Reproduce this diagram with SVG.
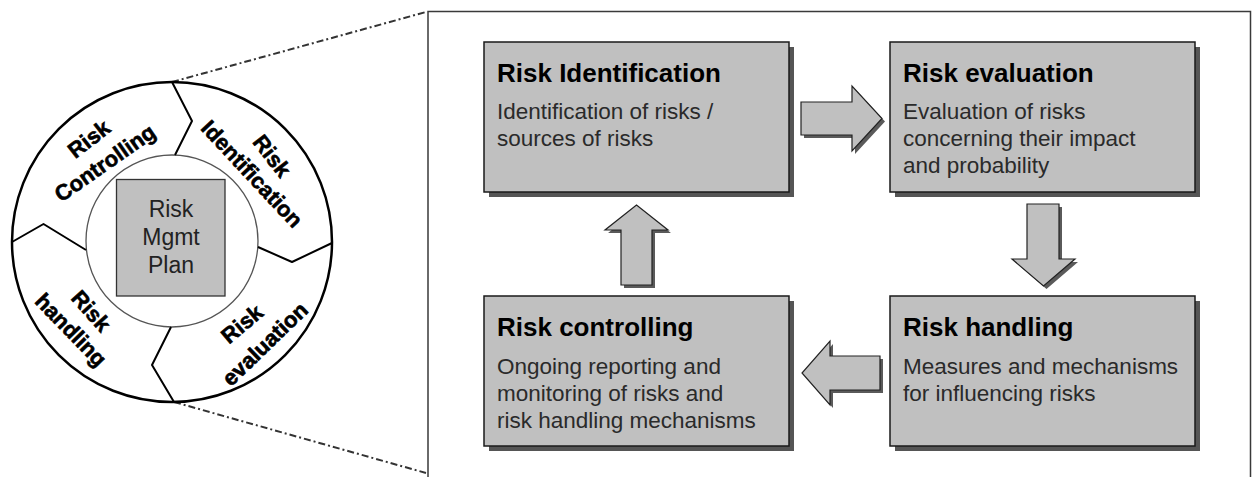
<svg xmlns="http://www.w3.org/2000/svg" width="1252" height="477" viewBox="0 0 1252 477">
  <style>
    .box { fill: #c0c0c0; stroke: #1a1a1a; stroke-width: 1.5; }
    .shadow { fill: #555555; }
    .arrow { fill: #c0c0c0; stroke: #222222; stroke-width: 1.2; stroke-linejoin: miter; }
    .ashadow { fill: #5a5a5a; }
    .head { font-family: "Liberation Sans", Arial, sans-serif; font-weight: bold; font-size: 26px; fill: #000000; }
    .body { font-family: "Liberation Sans", Arial, sans-serif; font-size: 22.5px; fill: #2a2a2a; }
    .ring { font-family: "Liberation Sans", Arial, sans-serif; font-weight: bold; font-size: 22px; fill: #000000; stroke: #000000; stroke-width: 0.6; text-anchor: middle; dominant-baseline: central; }
    .center { font-family: "Liberation Sans", Arial, sans-serif; font-size: 23px; fill: #222222; text-anchor: middle; }
    .divider { fill: none; stroke: #000000; stroke-width: 2; stroke-linejoin: round; }
    .callout { fill: none; stroke: #333333; stroke-width: 2; stroke-dasharray: 7 3 2 3; }
  </style>

  <rect x="0" y="0" width="1252" height="477" fill="#ffffff"/>

  <!-- zoom frame -->
  <g id="frame">
    <rect x="428" y="11.5" width="822.5" height="470" fill="#ffffff" stroke="#3a3a3a" stroke-width="1.5"/>
  </g>

  <!-- callout lines -->
  <g id="callout-lines">
    <line class="callout" x1="172" y1="82" x2="426" y2="12"/>
    <line class="callout" x1="174" y1="402" x2="426" y2="473"/>
  </g>

  <!-- circle overview -->
  <g id="risk-cycle">
    <circle cx="172" cy="242" r="160" fill="#ffffff" stroke="#000000" stroke-width="2.5"/>
    <circle cx="172" cy="241" r="86" fill="#ffffff" stroke="#555555" stroke-width="1.3"/>
    <polyline class="divider" points="172,82 192,121 175,155"/>
    <polyline class="divider" points="332,243 292,262 258,247"/>
    <polyline class="divider" points="171,327 152,365 174,402"/>
    <polyline class="divider" points="12,242 43.5,224 86,250"/>
    <g id="seg-controlling">
      <text class="ring" transform="translate(89,139) rotate(-38)">Risk</text>
      <text class="ring" transform="translate(105,163) rotate(-35)">Controlling</text>
    </g>
    <g id="seg-identification">
      <text class="ring" transform="translate(272,156) rotate(52)">Risk</text>
      <text class="ring" transform="translate(252,174) rotate(47)">Identification</text>
    </g>
    <g id="seg-evaluation">
      <text class="ring" transform="translate(242,324) rotate(-40)">Risk</text>
      <text class="ring" transform="translate(265,344) rotate(-44)">evaluation</text>
    </g>
    <g id="seg-handling">
      <text class="ring" transform="translate(91,311) rotate(48)">Risk</text>
      <text class="ring" transform="translate(71,330) rotate(46)">handling</text>
    </g>
    <g id="mgmt-plan">
      <rect x="116.5" y="179.5" width="108.5" height="116.5" fill="#c0c0c0" stroke="#333333" stroke-width="1.3"/>
      <text class="center" x="171" y="217">Risk</text>
      <text class="center" x="171" y="245">Mgmt</text>
      <text class="center" x="171" y="273">Plan</text>
    </g>
  </g>

  <!-- boxes -->
  <g id="risk-identification">
    <rect class="shadow" x="489" y="47" width="305" height="150"/>
    <rect class="box" x="484" y="42" width="305" height="150"/>
    <text class="head" x="497" y="82">Risk Identification</text>
    <text class="body" x="497" y="119">Identification of risks /</text>
    <text class="body" x="497" y="146">sources of risks</text>
  </g>

  <g id="risk-evaluation">
    <rect class="shadow" x="895" y="47" width="305" height="150"/>
    <rect class="box" x="890" y="42" width="305" height="150"/>
    <text class="head" x="903" y="82">Risk evaluation</text>
    <text class="body" x="903" y="119">Evaluation of risks</text>
    <text class="body" x="903" y="146">concerning their impact</text>
    <text class="body" x="903" y="173">and probability</text>
  </g>

  <g id="risk-controlling">
    <rect class="shadow" x="489" y="301" width="305" height="150"/>
    <rect class="box" x="484" y="296" width="305" height="150"/>
    <text class="head" x="497" y="336">Risk controlling</text>
    <text class="body" x="497" y="374">Ongoing reporting and</text>
    <text class="body" x="497" y="401">monitoring of risks and</text>
    <text class="body" x="497" y="428">risk handling mechanisms</text>
  </g>

  <g id="risk-handling">
    <rect class="shadow" x="895" y="301" width="305" height="150"/>
    <rect class="box" x="890" y="296" width="305" height="150"/>
    <text class="head" x="903" y="336">Risk handling</text>
    <text class="body" x="903" y="374">Measures and mechanisms</text>
    <text class="body" x="903" y="401">for influencing risks</text>
  </g>

  <!-- connectors: block arrows -->
  <g id="connectors">
    <g id="arrow-ident-eval">
      <polygon class="ashadow" transform="translate(3,3)" points="801,102 852,102 852,86 882,118.5 852,151 852,135 801,135"/>
      <polygon class="arrow" points="801,102 852,102 852,86 882,118.5 852,151 852,135 801,135"/>
    </g>
    <g id="arrow-eval-handling">
      <polygon class="ashadow" transform="translate(3,3)" points="1027,204 1059,204 1059,259 1075,259 1043.5,286 1012,259 1027,259"/>
      <polygon class="arrow" points="1027,204 1059,204 1059,259 1075,259 1043.5,286 1012,259 1027,259"/>
    </g>
    <g id="arrow-handling-controlling">
      <polygon class="ashadow" transform="translate(3,3)" points="880,356 880,390 830,390 830,405 802,373 830,341 830,356"/>
      <polygon class="arrow" points="880,356 880,390 830,390 830,405 802,373 830,341 830,356"/>
    </g>
    <g id="arrow-controlling-ident">
      <polygon class="ashadow" transform="translate(3,3)" points="621,285 652,285 652,230 668,230 636.5,205 605,230 621,230"/>
      <polygon class="arrow" points="621,285 652,285 652,230 668,230 636.5,205 605,230 621,230"/>
    </g>
  </g>
</svg>
